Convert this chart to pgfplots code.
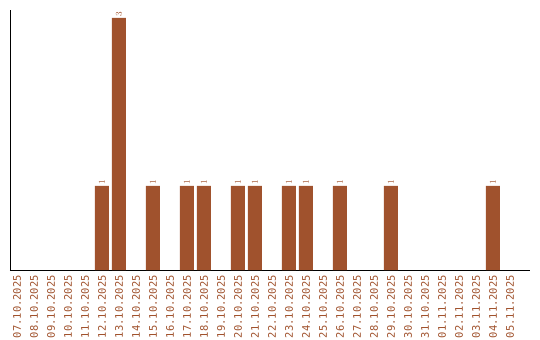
\documentclass[border=0pt]{standalone}
\usepackage{fontspec}
\setmonofont{DejaVu Sans Mono}
\usepackage{pgfplots}
\pgfplotsset{compat=1.18}
\definecolor{bar}{HTML}{A0522D}
\begin{document}
\begin{tikzpicture}
\path[use as bounding box] (-10bp,-70bp) rectangle (530bp,270bp);
\begin{axis}[
  scale only axis, width=520bp, height=260bp,
  xmin=-0.41, xmax=30.18, ymin=0, ymax=3.095,
  axis x line*=bottom, axis y line*=left,
  axis line style={black, line width=0.8pt, -},
  ytick=\empty,
  xtick={0,...,29},
  major tick length=0pt,
  xticklabels={07.10.2025,08.10.2025,09.10.2025,10.10.2025,11.10.2025,12.10.2025,13.10.2025,14.10.2025,15.10.2025,16.10.2025,17.10.2025,18.10.2025,19.10.2025,20.10.2025,21.10.2025,22.10.2025,23.10.2025,24.10.2025,25.10.2025,26.10.2025,27.10.2025,28.10.2025,29.10.2025,30.10.2025,31.10.2025,01.11.2025,02.11.2025,03.11.2025,04.11.2025,05.11.2025},
  xticklabel style={yshift=-5bp, rotate=90, anchor=east, font=\ttfamily\fontsize{10.5}{11}\selectfont, text=bar, inner sep=0pt},
  ybar, bar width=14bp, bar shift=0pt,
  nodes near coords,
  every node near coord/.append style={rotate=90, anchor=west, font=\ttfamily\fontsize{9}{9}\selectfont, text=bar, inner sep=1bp},
  clip=false,
]
\addplot[fill=bar, draw=none] coordinates {
(5,1) (6,3) (8,1) (10,1) (11,1) (13,1) (14,1) (16,1) (17,1) (19,1) (22,1) (28,1)
};
\end{axis}
\end{tikzpicture}
\end{document}
